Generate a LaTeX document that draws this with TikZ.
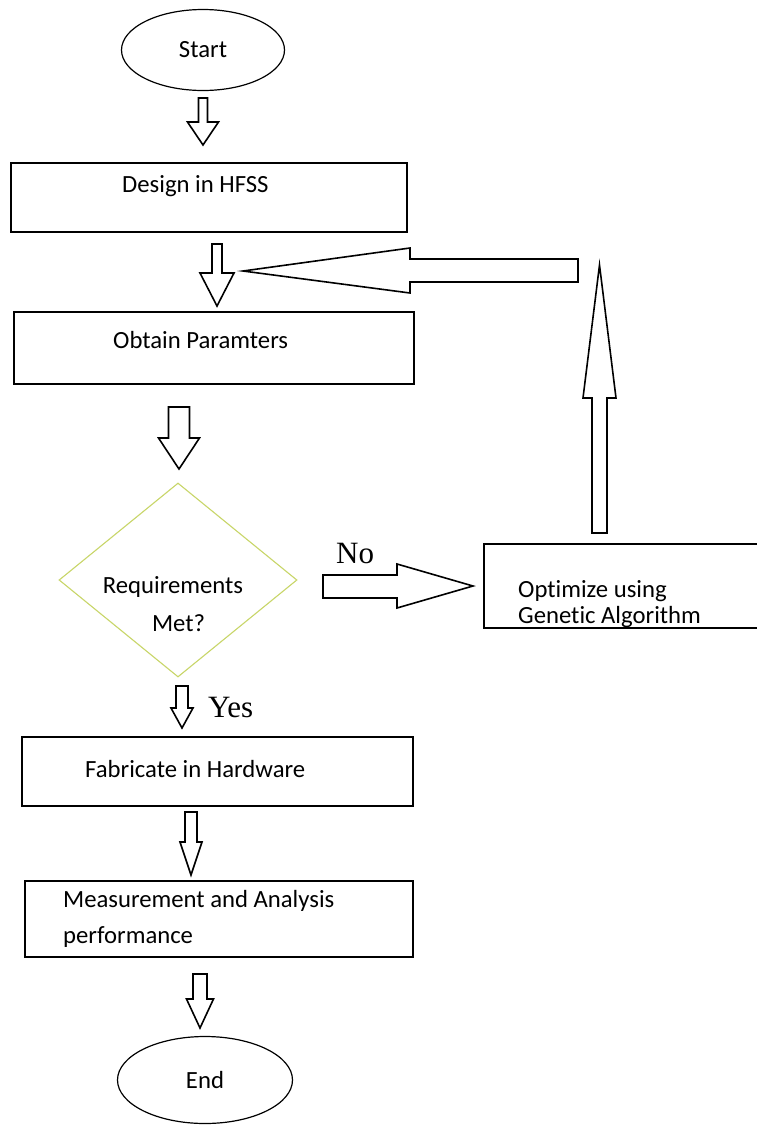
\documentclass[tikz,border=0pt]{standalone}
\usepackage{fontspec}
\setmainfont[Ligatures=NoCommon]{Carlito}
\newfontfamily\tnr{Liberation Serif}
\usetikzlibrary{shapes.geometric}
\definecolor{diacol}{RGB}{200,214,104}
\newcommand\dnblk[6]{\draw[blk] ({#1-#5},#2) -- ({#1+#5},#2) -- ({#1+#5},#3) -- ({#1+#6},#3) -- (#1,#4) -- ({#1-#6},#3) -- ({#1-#5},#3) -- cycle;}
\begin{document}
\begin{tikzpicture}[x=1pt,y=-1pt,
  box/.style={draw=black,line width=1.6pt,rectangle,inner sep=0pt,anchor=north west},
  oval/.style={draw=black,line width=1.2pt,ellipse,inner sep=0pt,font=\fontsize{24.7}{28}\selectfont},
  blk/.style={draw=black,line width=1.6pt,fill=white},
  lbl/.style={anchor=base west,inner sep=0pt,font=\fontsize{24.7}{28}\selectfont},
  clbl/.style={anchor=base,inner sep=0pt,font=\fontsize{24.7}{28}\selectfont},
  yn/.style={anchor=base west,inner sep=0pt,font=\tnr\fontsize{31}{34}\selectfont}]
\useasboundingbox[fill=white] (0,0) rectangle (756,1125);

% nodes
\node[oval,minimum width=163pt,minimum height=81pt] (start) at (203,50) {Start};
\node[box,minimum width=396pt,minimum height=69pt] (design) at (10,162) {};
\node[lbl] (tdesign) at (122,192) {Design in HFSS};
\node[box,minimum width=400pt,minimum height=72pt] (obtain) at (13,311) {};
\node[lbl] (tobtain) at (113,348) {Obtain Paramters};
\node[diamond,draw=diacol,line width=1.1pt,minimum width=238pt,minimum height=194pt,inner sep=0pt] (dec) at (178,580) {};
\node[clbl] (treq) at (173,593) {Requirements};
\node[clbl] (tmet) at (178.5,631) {Met?};
\node[box,minimum width=277pt,minimum height=84pt] (opt) at (483,543) {};
\node[lbl] (topt1) at (518,597) {Optimize using};
\node[lbl] (topt2) at (518,623) {Genetic Algorithm};
\node[box,minimum width=391pt,minimum height=69pt] (fab) at (21,736) {};
\node[lbl] (tfab) at (85,777) {Fabricate in Hardware};
\node[box,minimum width=388pt,minimum height=76pt] (meas) at (24,880) {};
\node[lbl] (tmeas1) at (63,907) {Measurement and Analysis};
\node[lbl] (tmeas2) at (63,943) {performance};
\node[oval,minimum width=175pt,minimum height=87pt] (end) at (205,1080) {End};
\node[yn] (no) at (336,563) {No};
\node[yn] (yes) at (208,717) {Yes};

% block arrows
\dnblk{203}{98}{122}{145}{4.5}{15.5}
\dnblk{217}{244}{273}{306}{5}{17}
\dnblk{179}{407}{438}{469}{10.5}{20.5}
\dnblk{182}{686}{708}{728}{6}{11}
\dnblk{191}{812}{842}{875}{6}{11}
\dnblk{200}{974}{999}{1028}{7}{13.5}
\draw[blk] (578,259) -- (410,259) -- (410,248) -- (243,271) -- (410,293) -- (410,282) -- (578,282) -- cycle;
\draw[blk] (592,533) -- (592,398) -- (583,398) -- (599.5,265) -- (616,398) -- (607,398) -- (607,533) -- cycle;
\draw[blk] (323,575) -- (397,575) -- (397,564) -- (473,586) -- (397,608) -- (397,598) -- (323,598) -- cycle;
\end{tikzpicture}
\end{document}
